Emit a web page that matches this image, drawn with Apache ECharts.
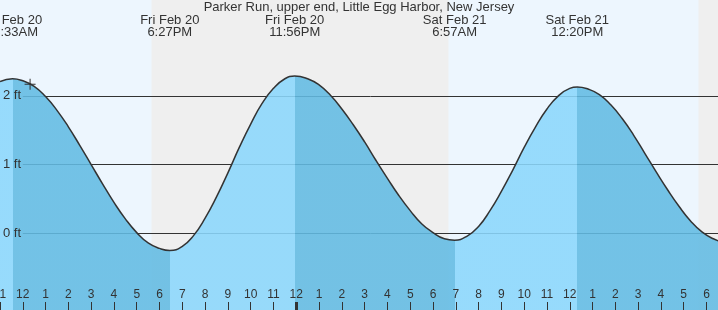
<!DOCTYPE html>
<html>
<head>
<meta charset="utf-8">
<title>Parker Run tides</title>
<script src="https://cdn.jsdelivr.net/npm/echarts@6/dist/echarts.min.js"></script>
<style>
  html, body { margin: 0; padding: 0; background: #fff; }
  #tideGraph { width: 718px; height: 310px; }
</style>
</head>
<body>
<div id="tideGraph"></div>
<script>
// hours counted from noon Fri Feb 20
var tideHours = [-1, -0.45, 0, 0.5, 1, 1.5, 2, 2.5, 3, 3.5, 4, 4.5, 5, 5.5, 6, 6.45,
  7, 7.5, 8, 8.5, 9, 9.5, 10, 10.5, 11, 11.5, 11.93,
  12.5, 13, 13.5, 14, 14.5, 15, 15.5, 16, 16.5, 17, 17.5, 18, 18.5, 18.95,
  19.5, 20, 20.5, 21, 21.5, 22, 22.5, 23, 23.5, 24, 24.33,
  24.8, 25.3, 25.8, 26.3, 26.8, 27.3, 27.8, 28.3, 28.8, 29.3, 29.8, 30.3, 30.8];
var tideFeet = [2.21, 2.25, 2.22, 2.14, 1.99, 1.79, 1.55, 1.28, 1.00, 0.72, 0.45, 0.21, 0.01, -0.14, -0.22, -0.25,
  -0.19, -0.03, 0.22, 0.53, 0.88, 1.25, 1.59, 1.89, 2.11, 2.25, 2.29,
  2.25, 2.16, 2.01, 1.81, 1.58, 1.33, 1.06, 0.80, 0.55, 0.33, 0.14, 0.01, -0.08, -0.10,
  -0.04, 0.10, 0.33, 0.61, 0.92, 1.25, 1.55, 1.81, 2.00, 2.11, 2.13,
  2.10, 2.02, 1.87, 1.67, 1.43, 1.16, 0.89, 0.63, 0.39, 0.18, 0.02, -0.08, -0.14];

var extremeHours = [-0.45, 6.45, 11.93, 18.95, 24.33, 31.05];
var extremeFalling = [true, false, true, false, true, false];
var extremeLabels = ['Fri Feb 20\n11:33AM', 'Fri Feb 20\n6:27PM', 'Fri Feb 20\n11:56PM', 'Sat Feb 21\n6:57AM', 'Sat Feb 21\n12:20PM', 'Sat Feb 21\n7:03PM'];

var nightStart = [5.65, 29.65];
var nightEnd = [18.68, 30.505];

var hourTicks = [];
for (var h = -1; h <= 30; h++) hourTicks.push(h);
var midnightTicks = [12];
var feetTicks = [0, 1, 2];

var nowHour = 0.32;
var nowFeet = 2.17;

var xMin = -1, xMax = 30.505;
var yMin = -1.1165, yMax = 3.396;

var dayColor = '#edf6fe';
var nightColor = '#efefef';
var risingColor = '#8bd7fc';
var fallingColor = '#62bbe3';
var font = 'Liberation Sans';

var dom = document.getElementById('tideGraph');
var myChart = echarts.init(dom);
var option = null;

var tideData = tideHours.map(function (t, i) { return [t, tideFeet[i]]; });

// falling tide (high -> low) darker, rising lighter
var pieces = [{lt: extremeHours[0], color: risingColor}];
for (var i = 0; i < extremeHours.length; i++) {
  var p = {gte: extremeHours[i], color: extremeFalling[i] ? fallingColor : risingColor};
  if (i + 1 < extremeHours.length) p.lt = extremeHours[i + 1];
  pieces.push(p);
}

var nightAreas = nightStart.map(function (s, i) {
  return [{xAxis: s}, {xAxis: nightEnd[i]}];
});

var gridLines = feetTicks.map(function (f) {
  return [{coord: [0, f]}, {coord: [xMax, f]}];
});

var labelPoints = extremeHours.map(function (t, i) {
  return {coord: [t, 3.015], value: extremeLabels[i]};
});

option = {
  animation: false,
  title: {
    text: 'Parker Run, upper end, Little Egg Harbor, New Jersey',
    left: 'center',
    top: 0,
    padding: [1, 0, 0, 0],
    textStyle: {fontSize: 13, fontWeight: 'normal', color: '#333', fontFamily: font}
  },
  grid: {
    left: 0, right: 0, top: 0, bottom: 0,
    containLabel: false,
    outerBoundsMode: 'none',
    show: true,
    backgroundColor: dayColor,
    borderWidth: 0
  },
  xAxis: [{
    type: 'value',
    min: xMin,
    max: xMax,
    z: 10,
    axisLine: {show: false, onZero: false},
    splitLine: {show: false},
    axisTick: {
      show: true, inside: true, length: 8,
      customValues: hourTicks,
      lineStyle: {color: '#333', width: 1}
    },
    axisLabel: {
      inside: true, margin: 9,
      customValues: hourTicks,
      color: '#333', fontSize: 12, fontFamily: font,
      formatter: function (v) {
        var n = ((Math.round(v) % 12) + 12) % 12;
        return String(n === 0 ? 12 : n);
      }
    }
  }, {
    type: 'value',
    min: xMin,
    max: xMax,
    position: 'bottom',
    z: 10,
    axisLine: {show: false, onZero: false},
    splitLine: {show: false},
    axisLabel: {show: false},
    axisTick: {
      show: true, inside: true, length: 8,
      customValues: midnightTicks,
      lineStyle: {color: '#333', width: 3}
    }
  }],
  yAxis: {
    type: 'value',
    min: yMin,
    max: yMax,
    z: 10,
    axisLine: {show: false},
    axisTick: {show: false},
    splitLine: {show: false},
    axisLabel: {
      inside: true, margin: 3,
      customValues: feetTicks,
      color: '#333', fontSize: 13, fontFamily: font,
      formatter: '{value} ft'
    }
  },
  visualMap: {
    type: 'piecewise',
    show: false,
    dimension: 0,
    seriesIndex: 1,
    pieces: pieces
  },
  series: [{
    name: 'background',
    type: 'line',
    data: [],
    silent: true,
    clip: false,
    z: 1,
    markArea: {
      silent: true,
      z: 1,
      itemStyle: {color: nightColor},
      data: nightAreas
    },
    markLine: {
      silent: true,
      z: 1.2,
      symbol: 'none',
      label: {show: false},
      lineStyle: {color: '#333', width: 1, type: 'solid'},
      data: gridLines
    },
    markPoint: {
      silent: true,
      z: 6,
      symbol: 'rect',
      symbolSize: 0,
      label: {
        show: true, position: 'inside',
        color: '#333', fontSize: 13, lineHeight: 12, fontFamily: font,
        formatter: function (p) { return p.value; }
      },
      data: labelPoints
    }
  }, {
    name: 'tide',
    type: 'line',
    data: tideData,
    smooth: true,
    silent: true,
    showSymbol: false,
    z: 2,
    lineStyle: {color: '#333', width: 1.5},
    areaStyle: {opacity: 0.88, origin: 'start'},
    markPoint: {
      silent: true,
      z: 6,
      symbol: 'path://M5,0H6V5H11V6H6V11H5V6H0V5H5Z',
      symbolSize: 11,
      itemStyle: {color: '#333'},
      label: {show: false},
      data: [{coord: [nowHour, nowFeet]}]
    }
  }]
};

if (option && typeof option === 'object') {
  myChart.setOption(option, true);
}
</script>
</body>
</html>
